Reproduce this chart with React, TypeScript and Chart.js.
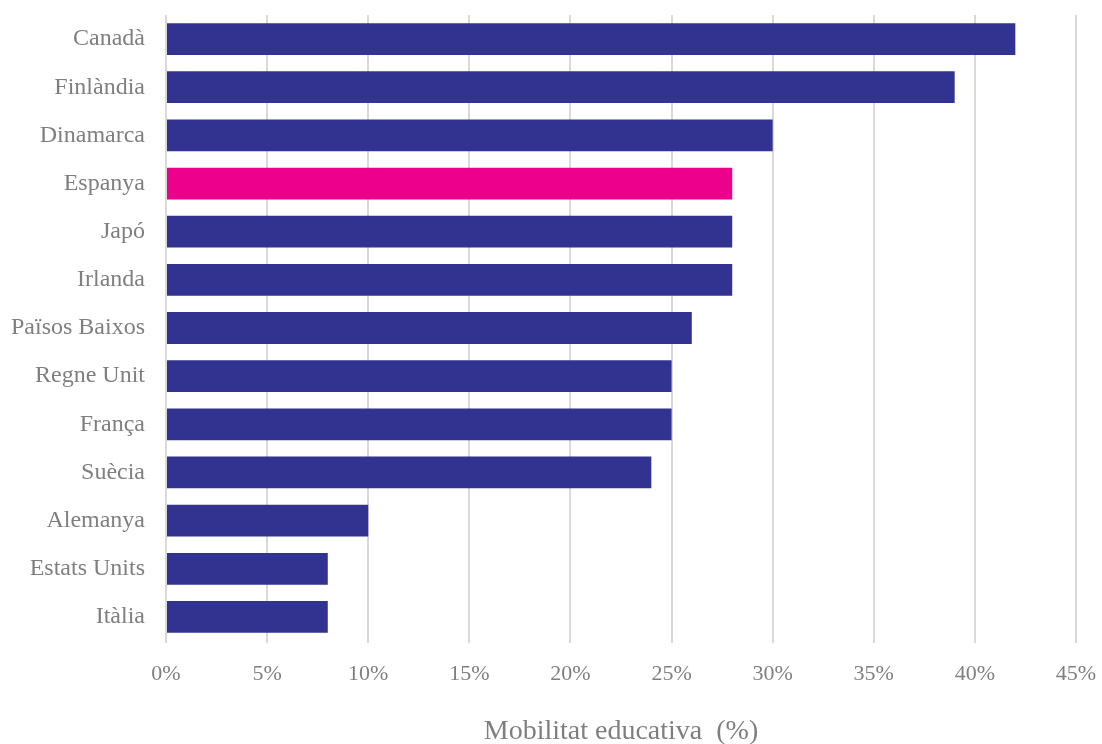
import React, { useEffect, useRef } from "react";
import { Chart, registerables } from "chart.js";

Chart.register(...registerables);

const categories = [
  "Canadà",
  "Finlàndia",
  "Dinamarca",
  "Espanya",
  "Japó",
  "Irlanda",
  "Països Baixos",
  "Regne Unit",
  "França",
  "Suècia",
  "Alemanya",
  "Estats Units",
  "Itàlia",
];
const values = [42, 39, 30, 28, 28, 28, 26, 25, 25, 24, 10, 8, 8];
const highlight = "Espanya";
const xTicks = [0, 5, 10, 15, 20, 25, 30, 35, 40, 45];
const axisTitle = "Mobilitat educativa  (%)";

const FONT = "'Liberation Serif', 'DejaVu Serif', serif";

export default function App() {
  const ref = useRef<HTMLCanvasElement | null>(null);
  useEffect(() => {
    if (!ref.current) return;
    const chart = new Chart(ref.current, {
      type: "bar",
      data: {
        labels: categories,
        datasets: [
          {
            data: values,
            backgroundColor: categories.map((c) => (c === highlight ? "#EC008C" : "#323390")),
            borderWidth: 0,
            barPercentage: 0.66,
            categoryPercentage: 1,
          },
        ],
      },
      options: {
        indexAxis: "y",
        animation: false,
        responsive: false,
        maintainAspectRatio: false,
        layout: { padding: { top: 15, right: 26, left: 0, bottom: 0 } },
        plugins: { legend: { display: false }, tooltip: { enabled: false } },
        scales: {
          x: {
            min: 0,
            max: 45,
            afterBuildTicks: (s: any) => {
              s.ticks = xTicks.map((v) => ({ value: v }));
            },
            afterFit: (s: any) => {
              s.height = 103;
              s.paddingLeft = 0;
              s.paddingRight = 0;
            },
            grid: { color: "#d9d9d9", lineWidth: 2, drawTicks: true, tickLength: 2 },
            border: { display: false },
            ticks: {
              color: "#7f7f7f",
              font: { family: FONT, size: 22 },
              padding: 18,
              callback: (v: any) => v + "%",
            },
            title: {
              display: true,
              text: axisTitle,
              color: "#7f7f7f",
              font: { family: FONT, size: 28, lineHeight: 1 },
              padding: { top: 0, bottom: -2 },
            },
          },
          y: {
            afterFit: (s: any) => {
              s.width = 166;
              s.paddingTop = 0;
              s.paddingBottom = 0;
            },
            grid: { display: false, drawTicks: false },
            border: { display: false },
            ticks: {
              color: "#7f7f7f",
              font: { family: FONT, size: 24 },
              padding: 21,
              autoSkip: false,
            },
          },
        },
      },
    });
    return () => chart.destroy();
  }, []);
  return (
    <div style={{ position: "absolute", left: 0, top: 0, width: 1102, height: 744, background: "#fff" }}>
      <canvas ref={ref} width={1102} height={744} style={{ width: 1102, height: 744 }} />
    </div>
  );
}
